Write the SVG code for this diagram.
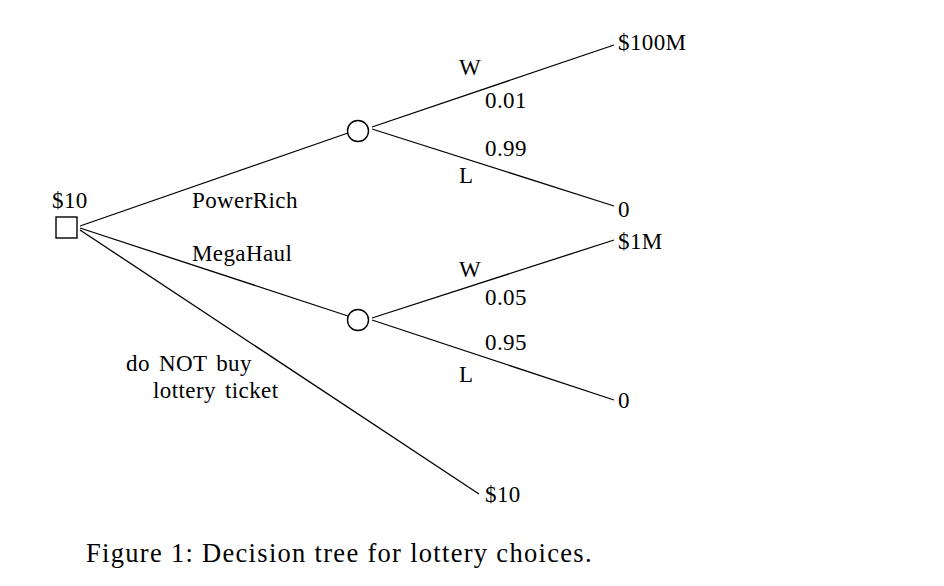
<svg xmlns="http://www.w3.org/2000/svg" width="944" height="586" viewBox="0 0 944 586">
<style>
  text { font-family: "Liberation Serif", "Times New Roman", serif; font-size: 23px; letter-spacing: 0.4px; fill: #000; }
  .ws { word-spacing: 3px; }
  .cap { font-size: 26.5px; letter-spacing: 1.3px; }
  .edge { stroke: #000; stroke-width: 1.3; fill: none; }
  .node { stroke: #000; stroke-width: 1.4; fill: #fff; }
</style>
<rect width="944" height="586" fill="#fff"/>
<g id="connectors">
  <line class="edge" x1="80" y1="226" x2="348" y2="133"/>
  <line class="edge" x1="80" y1="228" x2="348" y2="316"/>
  <line class="edge" x1="80" y1="230" x2="479" y2="494"/>
  <line class="edge" x1="372" y1="127" x2="614" y2="45"/>
  <line class="edge" x1="372" y1="129" x2="614" y2="206"/>
  <line class="edge" x1="372" y1="318" x2="614" y2="240"/>
  <line class="edge" x1="372" y1="320" x2="614" y2="400"/>
</g>
<g id="decision">
  <rect class="node" x="56" y="217" width="21" height="21" stroke-width="2"/>
  <text x="52" y="208">$10</text>
</g>
<g id="chance1">
  <circle class="node" cx="358" cy="131" r="10.5"/>
</g>
<g id="chance2">
  <circle class="node" cx="358" cy="320" r="10.5"/>
</g>
<g id="edge-labels">
  <text x="192" y="208">PowerRich</text>
  <text x="192" y="261">MegaHaul</text>
  <text class="ws" x="126" y="371">do NOT buy</text>
  <text class="ws" x="153" y="398">lottery ticket</text>
  <text x="459" y="75">W</text>
  <text x="485" y="108">0.01</text>
  <text x="485" y="156">0.99</text>
  <text x="459" y="183">L</text>
  <text x="459" y="277">W</text>
  <text x="485" y="305">0.05</text>
  <text x="485" y="350">0.95</text>
  <text x="459" y="382">L</text>
</g>
<g id="outcomes">
  <text x="618" y="50">$100M</text>
  <text x="618" y="217">0</text>
  <text x="618" y="249">$1M</text>
  <text x="618" y="408">0</text>
  <text x="485" y="502">$10</text>
</g>
<text class="cap" x="86" y="562">Figure 1: Decision tree for lottery choices.</text>
</svg>
